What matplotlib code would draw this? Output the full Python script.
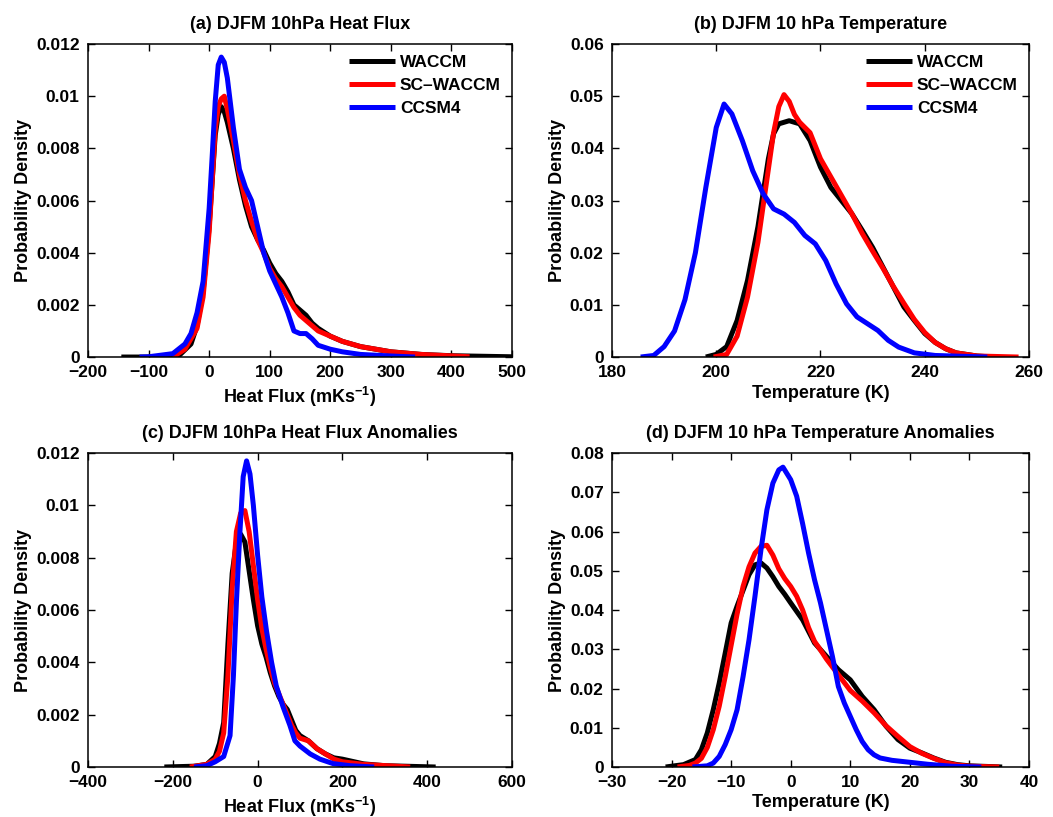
import matplotlib
matplotlib.use('Agg')
import matplotlib.pyplot as plt
from matplotlib.ticker import FuncFormatter

plt.rcParams['font.family'] = ['Liberation Sans', 'DejaVu Sans']
plt.rcParams['font.weight'] = 'bold'
plt.rcParams['mathtext.fontset'] = 'custom'
plt.rcParams['mathtext.rm'] = 'Liberation Sans:bold'
plt.rcParams['mathtext.default'] = 'rm'

# (a) heat flux PDFs
a_x_waccm = [-145, -100, -50, -30, -20, -10, 0, 10, 15, 20, 25, 30, 40, 50, 60, 70, 80, 90, 100,
             110, 120, 130, 140, 150, 160, 170, 180, 200, 220, 250, 300, 350, 400, 500]
a_y_waccm = [0, 0, 0.00005, 0.0005, 0.0012, 0.0025, 0.0050, 0.0085, 0.0093, 0.0096, 0.0094,
             0.0090, 0.0080, 0.0068, 0.0058, 0.0050, 0.0045, 0.0041, 0.0036, 0.0032, 0.0029,
             0.0025, 0.0020, 0.0018, 0.0016, 0.0013, 0.0011, 0.0008, 0.0006, 0.0004, 0.0002,
             0.0001, 0.00005, 0.00001]
a_x_sc = [-60, -40, -20, -10, 0, 10, 15, 20, 25, 30, 40, 50, 60, 70, 80, 90, 100, 110, 120, 130,
          140, 150, 160, 170, 180, 200, 220, 250, 300, 350, 430]
a_y_sc = [0, 0.0003, 0.0011, 0.0023, 0.0048, 0.0087, 0.0096, 0.0099, 0.0100, 0.0095, 0.0083,
          0.0070, 0.0060, 0.0052, 0.0045, 0.0040, 0.0034, 0.0030, 0.0027, 0.0023, 0.0019, 0.0016,
          0.0014, 0.0012, 0.0010, 0.0008, 0.0006, 0.0004, 0.0002, 0.0001, 0.00001]
a_x_ccsm = [-115, -100, -60, -40, -30, -20, -10, 0, 5, 10, 15, 20, 25, 30, 40, 50, 60, 70, 80, 90,
            100, 110, 120, 130, 140, 150, 160, 170, 180, 200, 220, 250, 300, 340]
a_y_ccsm = [0, 0.00001, 0.00013, 0.0005, 0.0009, 0.0017, 0.0029, 0.0057, 0.0077, 0.0098, 0.0112,
            0.0115, 0.0113, 0.0107, 0.0088, 0.0072, 0.0065, 0.0060, 0.0050, 0.0040, 0.0033, 0.0028,
            0.0023, 0.0017, 0.0010, 0.0009, 0.0009, 0.0007, 0.00045, 0.0003, 0.0002, 0.0001,
            0.00004, 0]

# (b) temperature PDFs
b_x_waccm = [198, 200, 202, 204, 206, 208, 210, 211, 212, 214, 216, 218, 220, 222, 224, 226, 228,
             230, 232, 234, 236, 238, 240, 242, 244, 246, 250, 253]
b_y_waccm = [0, 0.0005, 0.002, 0.007, 0.0147, 0.025, 0.038, 0.0428, 0.0447, 0.0453, 0.0447, 0.0415,
             0.0364, 0.0325, 0.030, 0.0275, 0.0243, 0.021, 0.0172, 0.0134, 0.0096, 0.007, 0.0045,
             0.0028, 0.0016, 0.0008, 0.0002, 0]
b_x_sc = [199.5, 202, 204, 206, 208, 210, 211, 212, 213, 214, 215, 216, 218, 220, 222, 224, 226,
          228, 230, 232, 234, 236, 238, 240, 242, 244, 246, 250, 258]
b_y_sc = [0, 0.0005, 0.004, 0.0115, 0.022, 0.036, 0.043, 0.048, 0.0503, 0.049, 0.0465, 0.045,
          0.043, 0.038, 0.0345, 0.031, 0.0275, 0.0237, 0.0203, 0.017, 0.0135, 0.0103, 0.0072,
          0.0047, 0.0028, 0.0016, 0.0008, 0.0002, 0]
b_x_ccsm = [185.5, 188, 190, 192, 194, 196, 198, 200, 201.5, 203, 205, 207, 209, 211, 213, 215,
            217, 219, 221, 223, 225, 227, 229, 231, 233, 235, 238, 242, 252]
b_y_ccsm = [0, 0.0003, 0.002, 0.005, 0.011, 0.020, 0.0325, 0.044, 0.0485, 0.0466, 0.0415, 0.0357,
            0.0313, 0.0284, 0.0274, 0.0258, 0.0233, 0.0217, 0.0185, 0.0140, 0.0102, 0.0077,
            0.0064, 0.0051, 0.0032, 0.0019, 0.0008, 0.0003, 0]

# (c) heat flux anomaly PDFs
c_x_waccm = [-220, -150, -120, -100, -90, -80, -70, -60, -50, -40, -30, -20, -10, 0, 10, 20, 30,
             40, 50, 60, 70, 80, 90, 100, 120, 140, 160, 180, 200, 250, 300, 420]
c_y_waccm = [0, 0.00003, 0.0001, 0.0004, 0.0009, 0.0017, 0.0047, 0.0074, 0.0086, 0.0089, 0.0086,
             0.0075, 0.0064, 0.0054, 0.0047, 0.0042, 0.0036, 0.0031, 0.0027, 0.0024, 0.0022,
             0.0018, 0.0014, 0.0012, 0.0010, 0.0007, 0.0005, 0.00035, 0.0003, 0.00012, 0.00005, 0]
c_x_sc = [-160, -120, -100, -90, -80, -70, -60, -50, -40, -30, -20, -10, 0, 10, 20, 30, 40, 50,
          60, 70, 80, 90, 100, 120, 140, 160, 180, 200, 250, 360]
c_y_sc = [0, 0.0001, 0.0003, 0.0006, 0.0013, 0.0035, 0.0068, 0.0090, 0.0097, 0.0098, 0.0090,
          0.0077, 0.0064, 0.0053, 0.0045, 0.0038, 0.0032, 0.0028, 0.0024, 0.0020, 0.0016, 0.0013,
          0.0011, 0.0010, 0.0007, 0.0005, 0.0003, 0.0002, 0.0001, 0]
c_x_ccsm = [-150, -120, -100, -80, -65, -57, -50, -42, -34, -26, -18, -10, 0, 10, 21, 33, 44, 60,
            76, 88, 100, 124, 147, 178, 218, 275]
c_y_ccsm = [0, 0.00005, 0.0002, 0.0004, 0.0012, 0.0035, 0.0063, 0.0089, 0.0111, 0.0117, 0.0112,
            0.0100, 0.0081, 0.0065, 0.0052, 0.0040, 0.0031, 0.0023, 0.0016, 0.0010, 0.0008,
            0.0005, 0.0003, 0.00013, 0.00005, 0]

# (d) temperature anomaly PDFs
d_x_waccm = [-21, -18, -16, -15, -14, -13, -12, -11, -10, -9, -8, -7, -6, -5, -4, -3, -2, -1, 0,
             2, 4, 6, 8, 10, 12, 14, 16, 18, 20, 22, 24, 26, 28, 30, 35.5]
d_y_waccm = [0, 0.0006, 0.0019, 0.0044, 0.0087, 0.0146, 0.0214, 0.029, 0.0367, 0.041, 0.045,
             0.049, 0.0515, 0.052, 0.0507, 0.0485, 0.046, 0.044, 0.0418, 0.0375, 0.0316, 0.0282,
             0.0248, 0.0222, 0.018, 0.0146, 0.0104, 0.007, 0.0048, 0.0036, 0.0023, 0.0012,
             0.0006, 0.0003, 0]
d_x_sc = [-19, -17, -16, -15, -14, -13, -12, -11, -10, -9, -8, -7, -6, -5, -4, -3, -2, -1, 0, 1,
          2, 3, 4, 5, 6, 8, 10, 12, 14, 16, 18, 20, 22, 24, 26, 28, 30, 35]
d_y_sc = [0, 0.0004, 0.001, 0.0022, 0.005, 0.0095, 0.0155, 0.023, 0.031, 0.039, 0.046, 0.051,
          0.0545, 0.0562, 0.0565, 0.054, 0.0505, 0.048, 0.046, 0.0435, 0.040, 0.0355, 0.032,
          0.0298, 0.0275, 0.0235, 0.0195, 0.0168, 0.0138, 0.0105, 0.0078, 0.0052, 0.0035,
          0.0022, 0.0011, 0.0005, 0.0002, 0]
d_x_ccsm = [-16.5, -14, -13, -12, -11, -10, -9, -8, -7, -6, -5, -4, -3, -2, -1.3, 0, 1, 2, 3, 4, 5,
            6, 7, 8, 9, 10, 11, 12, 13, 14, 15, 17, 20, 23, 27, 32]
d_y_ccsm = [0, 0.0003, 0.001, 0.0027, 0.0057, 0.0095, 0.0146, 0.023, 0.0324, 0.0435, 0.0553,
            0.0655, 0.0723, 0.0757, 0.0764, 0.0732, 0.069, 0.062, 0.0545, 0.0477, 0.0418, 0.035,
            0.0282, 0.0205, 0.0163, 0.0129, 0.0095, 0.0065, 0.0044, 0.0031, 0.0023, 0.0017,
            0.0012, 0.0007, 0.0002, 0]

names = ['WACCM', 'SC\u2013WACCM', 'CCSM4']
colors = ['black', 'red', 'blue']
flux_label = r'Heat Flux (mKs$^{-1}$)'

panels = [
    dict(title='(a) DJFM 10hPa Heat Flux', xlabel=flux_label, xlim=(-200, 500), ylim=(0, 0.012),
         xticks=range(-200, 501, 100), yticks=[0, 0.002, 0.004, 0.006, 0.008, 0.01, 0.012],
         lines=[(a_x_waccm, a_y_waccm), (a_x_sc, a_y_sc), (a_x_ccsm, a_y_ccsm)], legend=True,
         pos=[0.0836, 0.5630, 0.4026, 0.3831]),
    dict(title='(b) DJFM 10 hPa Temperature', xlabel='Temperature (K)', xlim=(180, 260),
         ylim=(0, 0.06), xticks=range(180, 261, 20), yticks=[0, 0.01, 0.02, 0.03, 0.04, 0.05, 0.06],
         lines=[(b_x_waccm, b_y_waccm), (b_x_sc, b_y_sc), (b_x_ccsm, b_y_ccsm)], legend=True,
         pos=[0.5812, 0.5630, 0.3960, 0.3831]),
    dict(title='(c) DJFM 10hPa Heat Flux Anomalies', xlabel=flux_label, xlim=(-400, 600),
         ylim=(0, 0.012), xticks=range(-400, 601, 200),
         yticks=[0, 0.002, 0.004, 0.006, 0.008, 0.01, 0.012],
         lines=[(c_x_waccm, c_y_waccm), (c_x_sc, c_y_sc), (c_x_ccsm, c_y_ccsm)], legend=False,
         pos=[0.0836, 0.0612, 0.4026, 0.3843]),
    dict(title='(d) DJFM 10 hPa Temperature Anomalies', xlabel='Temperature (K)', xlim=(-30, 40),
         ylim=(0, 0.08), xticks=range(-30, 41, 10),
         yticks=[0, 0.01, 0.02, 0.03, 0.04, 0.05, 0.06, 0.07, 0.08],
         lines=[(d_x_waccm, d_y_waccm), (d_x_sc, d_y_sc), (d_x_ccsm, d_y_ccsm)], legend=False,
         pos=[0.5812, 0.0612, 0.3960, 0.3843]),
]

fig = plt.figure(figsize=(10.53, 8.17), dpi=100)

for p in panels:
    ax = fig.add_axes(p['pos'])
    for (x, y), name, c in zip(p['lines'], names, colors):
        ax.plot(x, y, color=c, lw=3.6, label=name, solid_joinstyle='round', solid_capstyle='butt')
    ax.set_xlim(p['xlim'])
    ax.set_ylim(p['ylim'])
    ax.set_xticks(list(p['xticks']))
    ax.set_yticks(p['yticks'])
    ax.yaxis.set_major_formatter(FuncFormatter(lambda v, _: '%g' % v))
    ax.tick_params(direction='in', top=True, right=True, length=5, width=1, labelsize=12.5, pad=6)
    for sp in ax.spines.values():
        sp.set_linewidth(1.1)
    ax.set_title(p['title'], fontsize=13, fontweight='bold', pad=11)
    ax.set_xlabel(p['xlabel'], fontsize=13, fontweight='bold', labelpad=3)
    ax.set_ylabel('Probability Density', fontsize=13, fontweight='bold', labelpad=3)
    if p['legend']:
        ax.legend(loc='upper right', frameon=False, fontsize=12.5, handlelength=2.65,
                  handletextpad=0.3, labelspacing=0.45, borderaxespad=0.25)

fig.savefig('out.png', dpi=100)
